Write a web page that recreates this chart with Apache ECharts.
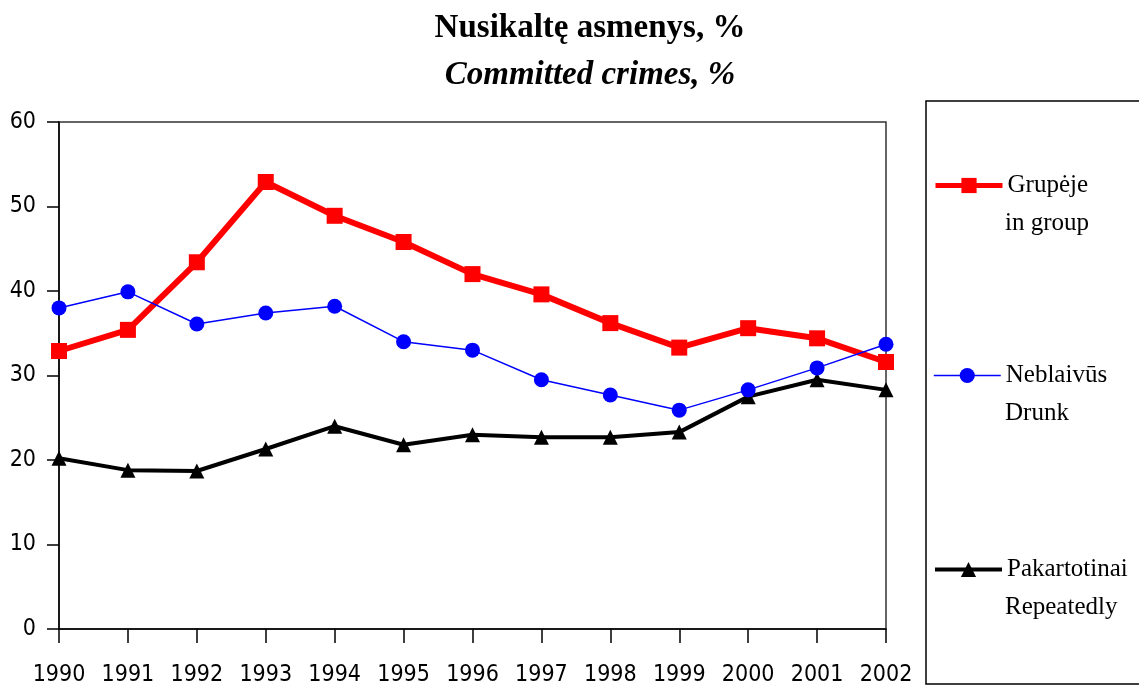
<!DOCTYPE html>
<html>
<head>
<meta charset="utf-8">
<script src="https://cdn.jsdelivr.net/npm/echarts@6/dist/echarts.min.js"></script>
<style>
  html, body { margin: 0; padding: 0; background: #fff; }
  #chart { width: 1139px; height: 690px; }
</style>
</head>
<body>
<div id="chart"></div>
<script>
var years = ['1990','1991','1992','1993','1994','1995','1996','1997','1998','1999','2000','2001','2002'];
var grupeje = [32.9, 35.4, 43.4, 52.9, 48.9, 45.8, 42.0, 39.6, 36.2, 33.3, 35.6, 34.4, 31.6];
var neblaivus = [38.0, 39.9, 36.1, 37.4, 38.2, 34.0, 33.0, 29.5, 27.7, 25.9, 28.3, 30.9, 33.7];
var pakartotinai = [20.2, 18.8, 18.7, 21.3, 24.0, 21.8, 23.0, 22.7, 22.7, 23.3, 27.5, 29.5, 28.3];
var namesLt = ['Grupėje', 'Neblaivūs', 'Pakartotinai'];
var namesEn = ['in group', 'Drunk', 'Repeatedly'];

var axisFont = '"DejaVu Sans Condensed", "Liberation Sans Narrow", sans-serif';
var serifFont = '"Liberation Serif", "DejaVu Serif", serif';

// legend rows (icon centre y) and colours / line widths
var legendRows = [183, 373, 567];
var colors = ['#ff0000', '#0000ff', '#000000'];
var widths = [5, 1.5, 4];

var myChart = echarts.init(document.getElementById('chart'));

var legends = [];
var secondLines = [];
for (var i = 0; i < namesLt.length; i++) {
    legends.push({
        orient: 'vertical',
        left: 933,
        top: legendRows[i] - 10,
        padding: 0,
        itemWidth: 67,
        itemHeight: 19,
        data: [namesLt[i]],
        lineStyle: { width: widths[i], color: colors[i] },
        textStyle: { fontFamily: serifFont, fontSize: 25, color: '#000' }
    });
    secondLines.push({
        type: 'text',
        left: 1005,
        top: legendRows[i] + 28,
        style: { text: namesEn[i], font: '25px ' + serifFont, fill: '#000' },
        silent: true
    });
}

var option = {
    backgroundColor: '#fff',
    animation: false,
    title: {
        text: 'Nusikaltę asmenys, %',
        subtext: 'Committed crimes, %',
        left: 585,
        textAlign: 'center',
        top: 7,
        itemGap: 14,
        textStyle: { fontFamily: serifFont, fontSize: 33, fontWeight: 'bold', color: '#000' },
        subtextStyle: { fontFamily: serifFont, fontSize: 33, fontWeight: 'bold', fontStyle: 'italic', color: '#000' }
    },
    grid: {
        left: 59, right: 253, top: 122, bottom: 61,
        show: true,
        borderColor: '#333',
        borderWidth: 1.5
    },
    legend: legends,
    xAxis: {
        type: 'category',
        data: years,
        boundaryGap: false,
        axisLine: { lineStyle: { color: '#000', width: 1.5 } },
        axisTick: { length: 14, lineStyle: { color: '#000', width: 1.5 } },
        axisLabel: { fontFamily: axisFont, fontSize: 23, color: '#000', margin: 35 }
    },
    yAxis: {
        type: 'value',
        min: 0,
        max: 60,
        interval: 10,
        splitLine: { show: false },
        axisLine: { show: true, lineStyle: { color: '#000', width: 1.5 } },
        axisTick: { show: true, length: 12, lineStyle: { color: '#000', width: 1.5 } },
        axisLabel: { fontFamily: axisFont, fontSize: 23, color: '#000', margin: 23 }
    },
    graphic: [{
        type: 'rect',
        shape: { x: 926, y: 101, width: 220, height: 583 },
        style: { fill: 'none', stroke: '#000', lineWidth: 1.5 },
        silent: true
    }].concat(secondLines),
    series: [
        {
            name: namesLt[0],
            type: 'line',
            data: grupeje,
            symbol: 'rect',
            symbolSize: 16,
            z: 3,
            lineStyle: { color: colors[0], width: 6 },
            itemStyle: { color: colors[0] }
        },
        {
            name: namesLt[1],
            type: 'line',
            data: neblaivus,
            symbol: 'circle',
            symbolSize: 15,
            z: 4,
            lineStyle: { color: colors[1], width: 1.5 },
            itemStyle: { color: colors[1] }
        },
        {
            name: namesLt[2],
            type: 'line',
            data: pakartotinai,
            symbol: 'triangle',
            symbolSize: 15,
            z: 2,
            lineStyle: { color: colors[2], width: 4 },
            itemStyle: { color: colors[2] }
        }
    ]
};

myChart.setOption(option);
</script>
</body>
</html>
